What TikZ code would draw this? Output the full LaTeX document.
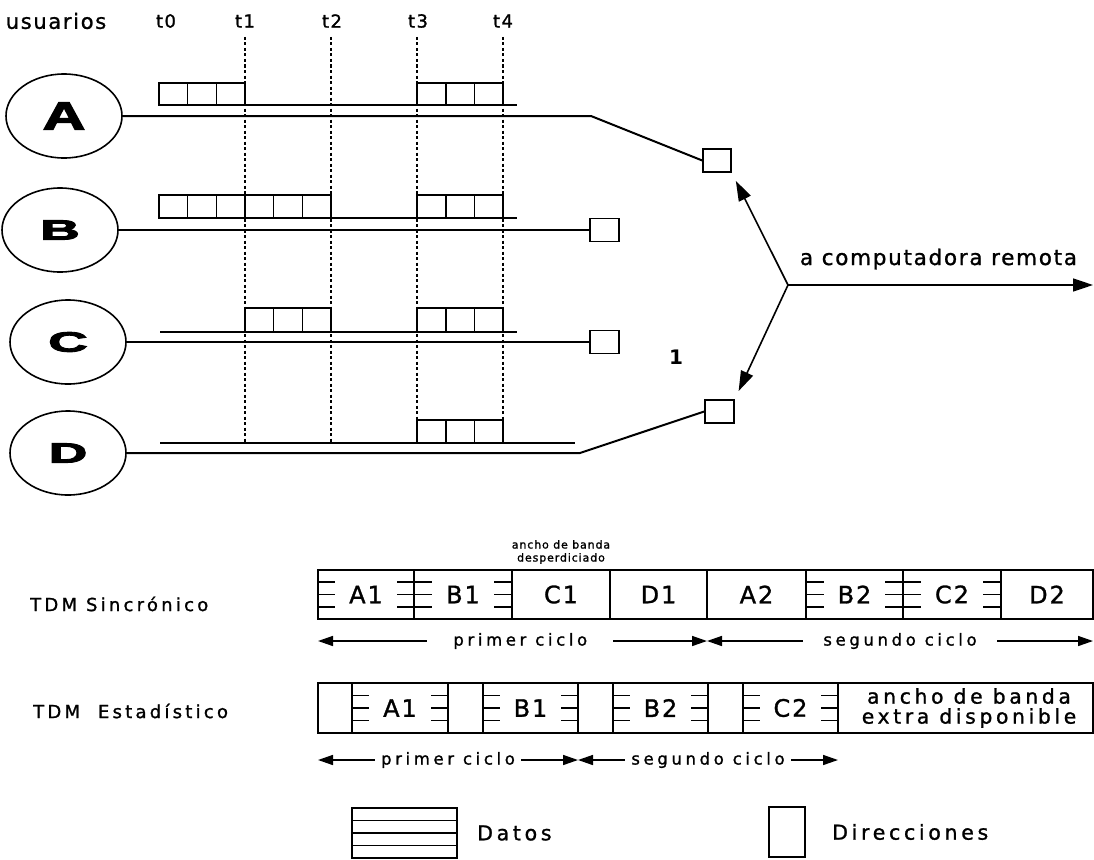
\documentclass[tikz,border=0pt]{standalone}
\usepackage{graphicx}
\usepackage{fontspec}
\setmainfont{DejaVu Sans}
\newfontfamily\txtfont[LetterSpace=8,FakeBold=1.2]{DejaVu Sans}
\newfontfamily\widefont[LetterSpace=18,FakeBold=1.2]{DejaVu Sans}
\newfontfamily\cycfont[LetterSpace=22,FakeBold=1.2]{DejaVu Sans}
\newfontfamily\heavyfont[FakeBold=3]{Liberation Sans Bold}
\usetikzlibrary{shapes.geometric,arrows.meta}

\tikzset{
  user/.style={draw, ellipse, line width=1.6pt, minimum width=116pt, minimum height=84pt, inner sep=0pt,
    font=\heavyfont\fontsize{28}{28}\selectfont},
  buf/.style={draw, line width=1.6pt, minimum width=28pt, minimum height=23pt, inner sep=0pt},
  wire/.style={line width=2pt},
  tline/.style={line width=1.4pt, dash pattern=on 3pt off 2.5pt},
  slot/.style={line width=1.6pt},
  feed/.style={-{Triangle[length=20pt,width=13pt]}, line width=1.6pt},
  cyc/.style={{Triangle[length=15pt,width=10pt]}-{Triangle[length=15pt,width=10pt]}, line width=1.5pt},
  lbl/.style={font=\txtfont\fontsize{20}{22}\selectfont, inner sep=0pt},
  cell/.style={font=\txtfont\fontsize{24}{25}\selectfont, fill=white, inner xsep=14pt, inner ysep=0pt, minimum height=28pt},
  cyclbl/.style={font=\cycfont\fontsize{16.5}{18}\selectfont, fill=white, inner ysep=2pt},
  keylbl/.style={font=\widefont\fontsize{20.5}{20}\selectfont, inner sep=0pt, anchor=west}
}

\begin{document}
\begin{tikzpicture}[x=1pt,y=-1pt]
\useasboundingbox (0,0) rectangle (1094,859);
% Header labels
\node[lbl, font=\txtfont\fontsize{21}{22}\selectfont] (users) at (56,21) {usuarios};
\node[lbl, font=\txtfont\fontsize{18}{20}\selectfont] (t0) at (166,21) {t0};
\node[lbl, font=\txtfont\fontsize{18}{20}\selectfont] (t1) at (245,21) {t1};
\node[lbl, font=\txtfont\fontsize{18}{20}\selectfont] (t2) at (332,21) {t2};
\node[lbl, font=\txtfont\fontsize{18}{20}\selectfont] (t3) at (418,21) {t3};
\node[lbl, font=\txtfont\fontsize{18}{20}\selectfont] (t4) at (503,21) {t4};
% Time marks
\draw[tline] (245,37) -- (245,443);
\draw[tline] (331,37) -- (331,443);
\draw[tline] (417,37) -- (417,443);
\draw[tline] (503,37) -- (503,443);
% Users
\node[user] (A) at (64,116) {\scalebox{2.1}[1.4]{A}};
\node[user] (B) at (60,230) {\scalebox{1.95}[1]{B}};
\node[user] (C) at (68,342) {\scalebox{1.95}[1]{C}};
\node[user] (D) at (68,453) {\scalebox{1.9}[1]{D}};
% User A traffic
\draw[wire] (159,105) -- (517,105);
\foreach \k in {0,1,2,9,10,11}
  \draw[slot] ({159+28.67*\k},83) rectangle ++(28.67,22);
% User B traffic
\draw[wire] (159,218) -- (517,218);
\foreach \k in {0,1,2,3,4,5,9,10,11}
  \draw[slot] ({159+28.67*\k},195) rectangle ++(28.67,23);
% User C traffic
\draw[wire] (160,332) -- (517,332);
\foreach \k in {3,4,5,9,10,11}
  \draw[slot] ({159+28.67*\k},308) rectangle ++(28.67,24);
% User D traffic
\draw[wire] (160,443) -- (575,443);
\foreach \k in {9,10,11}
  \draw[slot] ({159+28.67*\k},420) rectangle ++(28.67,23);
% Buffers at the multiplexer
\node[buf] (muxA) at (717,160.5) {};
\node[buf, minimum width=29pt] (bufB) at (604.5,230) {};
\node[buf, minimum width=29pt] (bufC) at (604.5,342) {};
\node[buf, minimum width=29pt] (muxD) at (719.5,411.5) {};
\draw[wire] (A.east) -- (591,116) -- (muxA.west);
\draw[wire] (B.east) -- (bufB.west);
\draw[wire] (C.east) -- (bufC.west);
\draw[wire] (D.east) -- (580,453) -- (muxD.west);
% Link to remote computer
\coordinate (jn) at (788,285);
\coordinate (remote) at (1093,285);
\draw[feed] (jn) -- (remote);
\draw[feed, shorten >=9pt] (jn) -- (muxA.south east);
\draw[feed, shorten >=9pt] (jn) -- (muxD.north east);
\node[lbl, font=\txtfont\fontsize{21.5}{24}\selectfont, anchor=base] (remlbl) at (938.5,265) {a computadora remota};
\node[font=\bfseries\fontsize{20}{20}\selectfont, inner sep=0pt] (one) at (676,357) {1};
% Synchronous TDM
\node[lbl, font=\txtfont\fontsize{11}{13}\selectfont, align=center] (waste) at (561,552) {ancho de banda\\desperdiciado};
\node[keylbl, font=\widefont\fontsize{18}{18}\selectfont] (sync) at (30,604) {TDM Sincrónico};
\draw[slot] (318,570) rectangle (1093,619);
\foreach \x in {414,512,610,707,806,903,1001}
  \draw[slot] (\x,570) -- (\x,619);
\foreach \y in {582,594.5,607}
  \draw[slot] (318,\y) -- (512,\y) (806,\y) -- (1001,\y);
\node[cell] (sA1) at (366,594.5) {A1};
\node[cell] (sB1) at (463,594.5) {B1};
\node[cell] (sC1) at (561,594.5) {C1};
\node[cell] (sD1) at (658.5,594.5) {D1};
\node[cell] (sA2) at (756.5,594.5) {A2};
\node[cell] (sB2) at (854.5,594.5) {B2};
\node[cell] (sC2) at (952,594.5) {C2};
\node[cell] (sD2) at (1047,594.5) {D2};
\coordinate (c0) at (318,641);
\coordinate (c1) at (707,641);
\coordinate (c2) at (1093,641);
\draw[cyc] (c0) -- node[cyclbl, pos=0.52, inner xsep=26pt] (cyc1) {primer ciclo} (c1);
\draw[cyc] (c1) -- node[cyclbl, inner xsep=20pt] (cyc2) {segundo ciclo} (c2);
% Statistical TDM
\node[keylbl, font=\widefont\fontsize{18}{18}\selectfont] (stat) at (33,711) {TDM~ Estadístico};
\draw[slot] (318,683) rectangle (1093,733);
\foreach \x in {352,448,483,578,613,708,743,838}
  \draw[slot] (\x,683) -- (\x,733);
\foreach \y in {695.5,708,720.5}
  \draw[slot] (352,\y) -- (448,\y) (483,\y) -- (578,\y) (613,\y) -- (708,\y) (743,\y) -- (838,\y);
\node[cell] (tA1) at (400,708) {A1};
\node[cell] (tB1) at (530.5,708) {B1};
\node[cell] (tB2) at (660.5,708) {B2};
\node[cell] (tC2) at (790.5,708) {C2};
\node[lbl, font=\widefont\fontsize{20.3}{20}\selectfont, align=center] (extra) at (969,708) {ancho de banda\\extra disponible};
\coordinate (d0) at (318,760);
\coordinate (d1) at (578,760);
\coordinate (d2) at (838,760);
\draw[cyc] (d0) -- node[cyclbl, inner xsep=6pt] (cyc3) {primer ciclo} (d1);
\draw[cyc] (d1) -- node[cyclbl, inner xsep=6pt] (cyc4) {segundo ciclo} (d2);
% Legend
\draw[slot] (352,808) rectangle (457,858);
\draw[slot] (352,820.5) -- (457,820.5) (352,833) -- (457,833) (352,845.5) -- (457,845.5);
\node[keylbl] (datos) at (477,833) {Datos};
\draw[slot] (769,807) rectangle (805,857);
\node[keylbl] (dirs) at (832,832) {Direcciones};
\end{tikzpicture}
\end{document}
